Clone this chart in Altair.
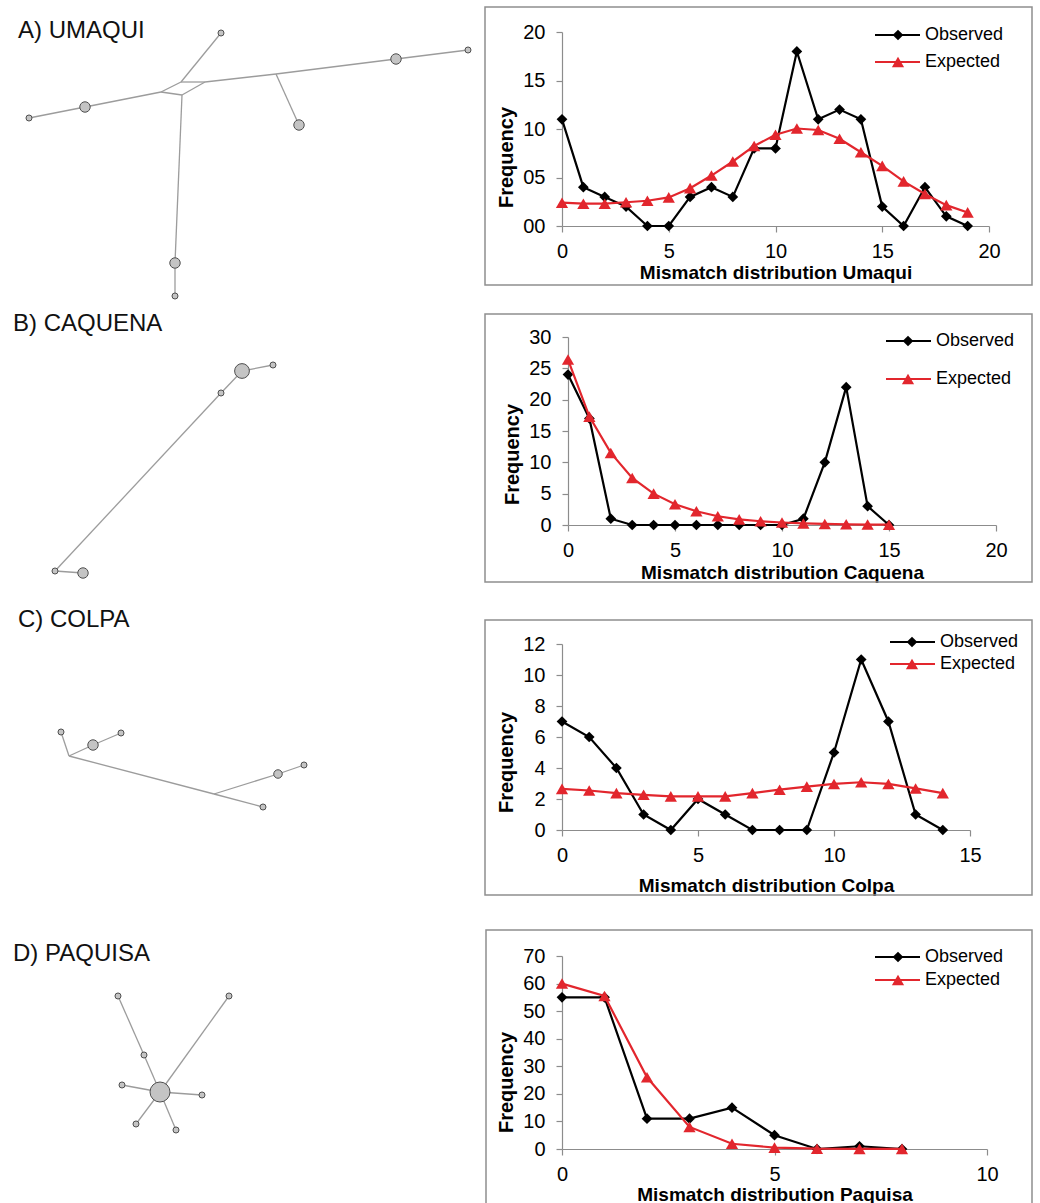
import altair as alt
import pandas as pd

FONT = "Liberation Sans"
RED = "#e2262d"
AXIS_GRAY = "#8c8c8c"
FRAME_GRAY = "#8f8f8f"
EDGE_GRAY = "#9c9c9c"
NODE_FILL = "#c4c4c4"
NODE_STROKE = "#4f4f4f"

# ---------------- mismatch distributions ----------------
series_names = ["Observed", "Expected"]

umaqui_observed = [11, 4, 3, 2, 0, 0, 3, 4, 3, 8, 8, 18, 11, 12, 11, 2, 0, 4, 1, 0]
umaqui_expected = [2.4, 2.3, 2.3, 2.45, 2.6, 2.95, 3.9, 5.2, 6.65, 8.25, 9.4, 10.05,
                   9.9, 9.0, 7.6, 6.2, 4.6, 3.3, 2.15, 1.4]

caquena_observed = [24, 17, 1, 0, 0, 0, 0, 0, 0, 0, 0, 1, 10, 22, 3, 0]
caquena_expected = [26.4, 17.3, 11.5, 7.5, 5.0, 3.3, 2.2, 1.4, 0.9, 0.6, 0.4, 0.25,
                    0.17, 0.11, 0.07, 0.05]

colpa_observed = [7, 6, 4, 1, 0, 2, 1, 0, 0, 0, 5, 11, 7, 1, 0]
colpa_expected = [2.65, 2.55, 2.38, 2.27, 2.17, 2.17, 2.17, 2.38, 2.6, 2.8, 2.97, 3.08,
                  2.97, 2.68, 2.38]

paquisa_observed = [55, 55, 11, 11, 15, 5, 0, 1, 0]
paquisa_expected = [60, 55.5, 26, 8, 1.9, 0.5, 0.1, 0.05, 0.03]

x_titles = ["Mismatch distribution  Umaqui", "Mismatch distribution  Caquena",
            "Mismatch distribution  Colpa", "Mismatch distribution  Paquisa"]
panel_labels = ["A) UMAQUI", "B) CAQUENA", "C) COLPA", "D) PAQUISA"]

# ---------------- haplotype networks (layout coordinates and haplotype counts) ----------------
umaqui_node_id = ["h1", "h2", "h3", "h4", "h5", "h6", "h7", "h8", "m1", "m2", "m3", "m4", "m5"]
umaqui_node_x = [28, 84, 220, 395, 467, 298, 174, 174, 160, 180, 181, 204, 275]
umaqui_node_y = [116, 105, 31, 57, 48, 123, 261, 294, 90, 80, 93, 80, 72]
umaqui_node_n = [1, 3, 1, 3, 1, 3, 3, 1, 0, 0, 0, 0, 0]
umaqui_edges = [("h1", "h2"), ("h2", "m1"), ("m1", "m2"), ("m1", "m3"), ("m2", "m4"),
                ("m3", "m4"), ("m4", "m5"), ("m5", "h4"), ("h4", "h5"), ("m5", "h6"),
                ("m2", "h3"), ("m3", "h7"), ("h7", "h8")]

caquena_node_id = ["h1", "h2", "h3", "h4", "h5"]
caquena_node_x = [241, 272, 220, 54, 82]
caquena_node_y = [369, 363, 391, 569, 571]
caquena_node_n = [6, 1, 1, 1, 3]
caquena_edges = [("h1", "h2"), ("h1", "h3"), ("h3", "h4"), ("h4", "h5")]

colpa_node_id = ["h1", "h2", "h3", "m1", "m2", "h4", "h5", "h6"]
colpa_node_x = [60, 92, 120, 68, 213, 277, 303, 262]
colpa_node_y = [730, 743, 731, 754, 792, 772, 763, 805]
colpa_node_n = [1, 3, 1, 0, 0, 2, 1, 1]
colpa_edges = [("h1", "m1"), ("m1", "h2"), ("h2", "h3"), ("m1", "m2"), ("m2", "h6"),
               ("m2", "h4"), ("h4", "h5")]

paquisa_node_id = ["h0", "h1", "h2", "h3", "h4", "h5", "h6", "h7"]
paquisa_node_x = [159, 143, 117, 228, 121, 201, 135, 175]
paquisa_node_y = [1090, 1053, 994, 994, 1083, 1093, 1122, 1128]
paquisa_node_n = [11, 1, 1, 1, 1, 1, 1, 1]
paquisa_edges = [("h0", "h1"), ("h1", "h2"), ("h0", "h3"), ("h0", "h4"), ("h0", "h5"),
                 ("h0", "h6"), ("h0", "h7")]

# ---------------- layout (pixels) ----------------
LEFT_W = 561
rows = [
    dict(top=30, lh=305, w=427, h=194, xoff=0, xmax=20, ymax=20, ystep=5, yfmt="02d",
         frame=(-77, 470, -25, 253), leg=(313, 358, 336, 363, 3, 30), xty=46, yty=125,
         lab=(17, -1)),
    dict(top=335, lh=307, w=434, h=188, xoff=6, xmax=20, ymax=30, ystep=5, yfmt="d",
         frame=(-77, 470, -23, 245), leg=(324, 369, 346, 374, 4, 42), xty=47, yty=117,
         lab=(12, -13)),
    dict(top=642, lh=312, w=408, h=186, xoff=0, xmax=15, ymax=12, ystep=2, yfmt="d",
         frame=(-77, 470, -24, 251), leg=(328, 373, 350, 378, -2, 20), xty=55, yty=118,
         lab=(17, -24)),
    dict(top=954, lh=250, w=425, h=193, xoff=0, xmax=10, ymax=70, ystep=10, yfmt="d",
         frame=(-76, 470, -26, 262), leg=(313, 358, 336, 363, 1, 24), xty=45, yty=126,
         lab=(12, -2)),
]

networks = [
    (umaqui_node_id, umaqui_node_x, umaqui_node_y, umaqui_node_n, umaqui_edges),
    (caquena_node_id, caquena_node_x, caquena_node_y, caquena_node_n, caquena_edges),
    (colpa_node_id, colpa_node_x, colpa_node_y, colpa_node_n, colpa_edges),
    (paquisa_node_id, paquisa_node_x, paquisa_node_y, paquisa_node_n, paquisa_edges),
]
distributions = [
    (umaqui_observed, umaqui_expected),
    (caquena_observed, caquena_expected),
    (colpa_observed, colpa_expected),
    (paquisa_observed, paquisa_expected),
]


def network_panel(net, label, lay):
    ids, xs, ys, ns, edges = net
    nodes = pd.DataFrame({"id": ids, "x": xs, "y": ys, "n": ns})
    pos = {i: (x, y) for i, x, y in zip(ids, xs, ys)}
    edf = pd.DataFrame({
        "x1": [pos[a][0] for a, b in edges], "y1": [pos[a][1] for a, b in edges],
        "x2": [pos[b][0] for a, b in edges], "y2": [pos[b][1] for a, b in edges],
    })
    xsc = alt.Scale(domain=[0, LEFT_W], range=[0, LEFT_W], nice=False, zero=False)
    ysc = alt.Scale(domain=[lay["top"], lay["top"] + lay["lh"]], range=[0, lay["lh"]],
                    nice=False, zero=False)
    e_layer = alt.Chart(edf).mark_rule(color=EDGE_GRAY, strokeWidth=1.3).encode(
        x=alt.X("x1:Q", scale=xsc, axis=None),
        y=alt.Y("y1:Q", scale=ysc, axis=None),
        x2="x2:Q", y2="y2:Q",
    )
    n_layer = alt.Chart(nodes[nodes["n"] > 0]).mark_circle(
        color=NODE_FILL, opacity=1, stroke=NODE_STROKE, strokeWidth=1
    ).encode(
        x=alt.X("x:Q", scale=xsc, axis=None),
        y=alt.Y("y:Q", scale=ysc, axis=None),
        size=alt.Size("n:Q", scale=alt.Scale(domain=[0, 11], range=[0, 400]), legend=None),
    )
    t_layer = alt.Chart(pd.DataFrame({"t": [label]})).mark_text(
        align="left", baseline="middle", font=FONT, fontSize=24, color="#111111"
    ).encode(x=alt.value(lay["lab"][0]), y=alt.value(lay["lab"][1]), text="t:N")
    return alt.layer(e_layer, n_layer, t_layer).properties(width=LEFT_W, height=lay["lh"])


def mismatch_panel(obs, exp, xtitle, lay):
    obs_df = pd.DataFrame({"k": list(range(len(obs))), "f": obs})
    exp_df = pd.DataFrame({"k": list(range(len(exp))), "f": exp})
    xsc = alt.Scale(domain=[0, lay["xmax"]], range=[lay["xoff"], lay["w"]], nice=False, zero=False)
    ysc = alt.Scale(domain=[0, lay["ymax"]], nice=False, zero=True)
    common = dict(grid=False, domainColor=AXIS_GRAY, domainWidth=1.2, tickColor=AXIS_GRAY,
                  tickWidth=1.2, tickSize=6, labelFont=FONT, labelFontSize=20,
                  labelColor="black", titleFont=FONT,
                  titleFontWeight="bold", titleColor="black", labelOverlap=False)
    xaxis = alt.Axis(values=list(range(0, lay["xmax"] + 1, 5)), title=xtitle,
                     labelPadding=9, labelFlush=False, titleY=lay["xty"],
                     titleFontSize=19, titleBaseline="middle", **common)
    yaxis = alt.Axis(values=list(range(0, lay["ymax"] + 1, lay["ystep"])), format=lay["yfmt"],
                     title="Frequency", labelPadding=11, offset=-lay["xoff"],
                     titleX=-56, titleY=lay["yty"], titleAngle=270, titleAlign="center",
                     titleFontSize=20, titleBaseline="middle", **common)
    X = alt.X("k:Q", scale=xsc, axis=xaxis)
    Y = alt.Y("f:Q", scale=ysc, axis=yaxis)

    one = pd.DataFrame({"a": [0]})
    fx1, fx2, fy1, fy2 = lay["frame"]
    frame = alt.Chart(one).mark_rect(fill="transparent", stroke=FRAME_GRAY, strokeWidth=1.5).encode(
        x=alt.value(fx1), x2=alt.value(fx2), y=alt.value(fy1), y2=alt.value(fy2))

    obs_line = alt.Chart(obs_df).mark_line(color="black", strokeWidth=2.2).encode(x=X, y=Y)
    obs_pts = alt.Chart(obs_df).mark_point(shape="diamond", filled=True, color="black",
                                           size=115, opacity=1).encode(x=X, y=Y)
    exp_line = alt.Chart(exp_df).mark_line(color=RED, strokeWidth=2.2).encode(x=X, y=Y)
    exp_pts = alt.Chart(exp_df).mark_point(shape="triangle-up", filled=True, color=RED,
                                           size=150, opacity=1).encode(x=X, y=Y)

    lx1, lx2, mx, tx, y_obs, y_exp = lay["leg"]
    legend_layers = []
    for name, color, shape, size, yy in [
        (series_names[0], "black", "diamond", 115, y_obs),
        (series_names[1], RED, "triangle-up", 150, y_exp),
    ]:
        base = alt.Chart(pd.DataFrame({"t": [name]}))
        legend_layers.append(base.mark_rule(color=color, strokeWidth=2.2).encode(
            x=alt.value(lx1), x2=alt.value(lx2), y=alt.value(yy)))
        legend_layers.append(base.mark_point(shape=shape, filled=True, color=color, size=size,
                                             opacity=1).encode(x=alt.value(mx), y=alt.value(yy)))
        legend_layers.append(base.mark_text(align="left", baseline="middle", font=FONT,
                                            fontSize=18, color="black").encode(
            x=alt.value(tx), y=alt.value(yy), text="t:N"))

    return alt.layer(frame, obs_line, obs_pts, exp_line, exp_pts, *legend_layers).properties(
        width=lay["w"], height=lay["h"])


cells = []
for i, lay in enumerate(rows):
    cells.append(network_panel(networks[i], panel_labels[i], lay))
    obs, exp = distributions[i]
    cells.append(mismatch_panel(obs, exp, x_titles[i], lay))

chart = alt.concat(*cells, columns=2, spacing=0, bounds="flush", align="each").configure_view(
    stroke="transparent"
).properties(
    padding={"left": 0, "top": 5, "right": 5, "bottom": 0},
    background="white",
)

chart.save("out.html", embed_options={"renderer": "svg", "actions": False})
